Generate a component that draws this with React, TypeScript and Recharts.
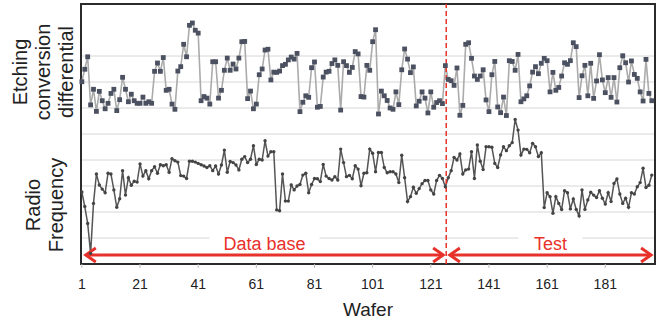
import React from "react";
import { LineChart, Line, XAxis, YAxis, CartesianGrid, ReferenceLine, ReferenceArea } from "recharts";

// etching conversion differential (upper trace), wafers 1..197
const etching = [
  7.01, 7.49, 7.97, 6.12, 6.72, 5.87, 6.64, 6.28, 5.97, 6.18, 6.56, 6.72, 5.90, 6.32, 7.18, 6.72, 6.24, 6.53, 6.28, 6.18,
  6.18, 6.42, 6.18, 6.24, 6.18, 7.41, 7.73, 7.41, 7.94, 6.68, 6.72, 6.15, 5.95,
  7.42, 7.59, 8.45, 7.97, 9.18, 9.27, 8.99, 8.88, 6.28, 6.44, 6.38, 6.15, 7.78, 7.78, 6.38, 6.68, 7.45, 7.92, 7.45,
  7.69, 7.50, 7.92, 8.55, 8.56, 6.36, 6.65, 5.97, 6.15, 7.28, 7.50, 8.23, 8.26, 7.08,
  7.38, 7.37, 7.42, 7.63, 7.68, 7.85, 7.96, 7.88, 8.10, 5.86, 6.22, 6.47, 6.41, 7.55, 7.77, 6.03, 6.06, 7.19, 7.38,
  7.41, 7.71, 7.85, 7.64, 5.92, 7.78, 7.63, 7.37, 7.56, 8.17, 8.08, 6.44, 6.42, 7.64,
  7.45, 8.55, 9.01, 5.77, 6.65, 6.47, 6.29, 6.00, 5.95, 6.62, 6.13, 7.47, 8.27, 7.88, 7.36, 7.58, 6.08, 6.26, 6.62,
  6.38, 5.81, 6.62, 6.03, 6.21, 6.28, 6.17, 7.63, 7.10, 7.05, 6.87, 7.54, 5.72, 6.10,
  8.45, 8.51, 7.91, 7.23, 7.10, 7.23, 7.47, 6.31, 5.86, 7.28, 7.79, 6.04, 5.82, 6.42, 5.71, 7.82, 7.79, 7.45, 8.06,
  6.24, 6.35, 6.47, 6.85, 7.38, 7.59, 7.32, 7.72, 7.91, 7.82, 6.62, 7.37, 6.68, 6.79,
  7.23, 7.74, 7.68, 7.82, 8.51, 8.36, 6.40, 7.24, 7.64, 6.47, 7.72, 6.37, 7.04, 8.05, 7.08, 6.59, 7.17, 6.41, 7.17,
  6.23, 7.55, 8.01, 7.74, 7.00, 7.81, 7.29, 7.14, 6.62, 6.27, 7.87, 6.56, 6.28,
];

// radio frequency (lower trace), wafers 1..197
const radioFreq = [
  2.77, 2.21, 1.56, 0.41, 2.33, 3.46, 3.04, 2.88, 2.74, 3.49, 3.46, 2.85, 2.18, 2.51, 3.59, 2.65, 3.32, 3.03, 3.18, 3.15,
  3.85, 3.38, 3.59, 3.28, 3.59, 3.74, 3.49, 3.82, 3.78, 3.82, 3.53, 4.05, 3.97,
  3.92, 3.40, 3.38, 3.29, 3.95, 3.95, 3.92, 3.87, 3.82, 3.77, 3.71, 3.78, 3.59, 3.77, 3.46, 3.81, 4.38, 3.53, 3.94,
  3.90, 3.81, 3.62, 4.03, 4.13, 3.90, 4.03, 4.55, 3.83, 4.03, 4.00, 4.74, 4.15, 4.32,
  4.32, 2.08, 2.05, 3.46, 2.42, 2.42, 3.04, 2.85, 3.00, 3.06, 3.42, 3.49, 2.74, 3.06, 3.29, 3.28, 3.17, 3.83, 3.38,
  3.29, 3.23, 3.36, 3.23, 4.42, 3.90, 3.36, 3.41, 3.28, 3.78, 3.65, 3.01, 3.49, 3.51,
  4.42, 4.26, 3.55, 4.29, 4.29, 3.71, 3.51, 3.55, 3.55, 3.46, 3.13, 4.18, 3.32, 2.40, 2.59, 2.95, 2.72, 2.90, 3.09,
  3.21, 3.21, 2.85, 2.69, 3.21, 3.41, 3.29, 2.97, 3.32, 3.59, 4.10, 4.00, 4.23, 3.46,
  3.62, 3.65, 4.32, 3.29, 4.58, 3.95, 3.63, 4.51, 4.51, 4.49, 3.87, 3.71, 4.19, 4.51, 4.36, 4.55, 4.67, 5.56, 5.15,
  4.19, 4.42, 4.41, 4.28, 4.64, 4.51, 4.13, 4.28, 2.17, 2.74, 2.59, 1.95, 2.59, 2.33,
  2.10, 2.82, 2.74, 2.12, 2.50, 2.10, 1.85, 2.85, 2.10, 2.46, 2.76, 2.65, 2.56, 2.82, 2.53, 2.31, 2.74, 2.40, 3.10,
  3.27, 2.69, 2.33, 2.53, 2.18, 2.74, 2.69, 2.97, 3.13, 3.68, 2.94, 3.03, 3.42,
];

const xTicks = [1, 21, 41, 61, 81, 101, 121, 141, 161, 181];
const yTicks = [0, 1, 2, 3, 4, 5, 6, 7, 8, 9, 10];

// database / test split and the two range arrows
const splitWafer = 126.3;
const arrowLevel = 0.35;
const dataBaseRange = [2.0, 125.6];
const testRange = [127.2, 197.1];

const RED = "#e8312b";
const FONT = "'Liberation Sans', Arial, sans-serif";

const data = etching.map((v, i) => ({ wafer: i + 1, etching: v, rf: radioFreq[i] }));

const squareDot = (p: any) => (
  <rect key={`s${p.index}`} x={p.cx - 2.4} y={p.cy - 2.4} width={4.8} height={4.8} fill="#4b5160" />
);
const smallDot = (p: any) => (
  <circle key={`c${p.index}`} cx={p.cx} cy={p.cy} r={1.7} fill="#444" />
);

// double headed arrow with a boxed caption above it
const rangeArrow = (caption: string, boxW: number) => (p: any) => {
  const { x1, x2, y1 } = p;
  const left = Math.min(x1, x2);
  const right = Math.max(x1, x2);
  const mid = (left + right) / 2;
  return (
    <g>
      <rect x={mid - boxW / 2} y={y1 - 24} width={boxW} height={20} fill="#fff" />
      <text x={mid} y={y1 - 5} textAnchor="middle" fontSize={18} fill={RED} fontFamily={FONT}>
        {caption}
      </text>
      <line x1={left + 1} y1={y1} x2={right - 1} y2={y1} stroke={RED} strokeWidth={3} />
      <polyline points={`${left + 11},${y1 - 7} ${left + 1},${y1} ${left + 11},${y1 + 7}`} fill="none" stroke={RED} strokeWidth={3} />
      <polyline points={`${right - 11},${y1 - 7} ${right - 1},${y1} ${right - 11},${y1 + 7}`} fill="none" stroke={RED} strokeWidth={3} />
    </g>
  );
};

export default function App() {
  return (
    <div style={{ position: "absolute", left: 0, top: 0, width: 662, height: 324, background: "#fff" }}>
      <LineChart width={662} height={324} data={data} margin={{ top: 4, right: 7, left: 81, bottom: 0 }}>
        <CartesianGrid vertical={false} stroke="#d6d6d6" strokeWidth={1} horizontalValues={yTicks} />
        <XAxis
          dataKey="wafer"
          type="number"
          domain={[0.7, 198.1]}
          ticks={xTicks}
          interval={0}
          axisLine={false}
          tickLine={{ stroke: "#bbb" }}
          tickSize={4}
          tickMargin={11}
          height={60}
          tick={{ fontSize: 14, fill: "#222", fontFamily: FONT }}
          label={{ value: "Wafer", position: "insideBottom", offset: 8, fontSize: 19, fill: "#222", fontFamily: FONT }}
        />
        <YAxis type="number" domain={[0, 10]} ticks={yTicks} hide />
        <Line
          dataKey="etching"
          stroke="#ababab"
          strokeWidth={1.6}
          dot={squareDot}
          activeDot={false}
          isAnimationActive={false}
        />
        <Line
          dataKey="rf"
          stroke="#555"
          strokeWidth={1.5}
          dot={smallDot}
          activeDot={false}
          isAnimationActive={false}
        />
        <ReferenceArea x1={0.7} x2={198.1} y1={0} y2={10} fill="none" stroke="#2b2b2b" strokeWidth={2} ifOverflow="visible" />
        <ReferenceLine x={splitWafer} stroke={RED} strokeWidth={1.5} strokeDasharray="5 3" />
        <ReferenceLine
          segment={[{ x: dataBaseRange[0], y: arrowLevel }, { x: dataBaseRange[1], y: arrowLevel }]}
          shape={rangeArrow("Data base", 110)}
          ifOverflow="visible"
        />
        <ReferenceLine
          segment={[{ x: testRange[0], y: arrowLevel }, { x: testRange[1], y: arrowLevel }]}
          shape={rangeArrow("Test", 64)}
          ifOverflow="visible"
        />
      </LineChart>
      <svg width={80} height={270} style={{ position: "absolute", left: 0, top: 0 }}>
        <g transform="translate(43,72) rotate(-90)" fontFamily={FONT} fontSize={20} fill="#222" textAnchor="middle">
          <text y={-23} dy="0.35em">Etching</text>
          <text y={0} dy="0.35em">conversion</text>
          <text y={23} dy="0.35em">differential</text>
        </g>
        <g transform="translate(44,205) rotate(-90)" fontFamily={FONT} fontSize={20} fill="#222" textAnchor="middle">
          <text y={-11.5} dy="0.35em">Radio</text>
          <text y={11.5} dy="0.35em">Frequency</text>
        </g>
      </svg>
    </div>
  );
}
